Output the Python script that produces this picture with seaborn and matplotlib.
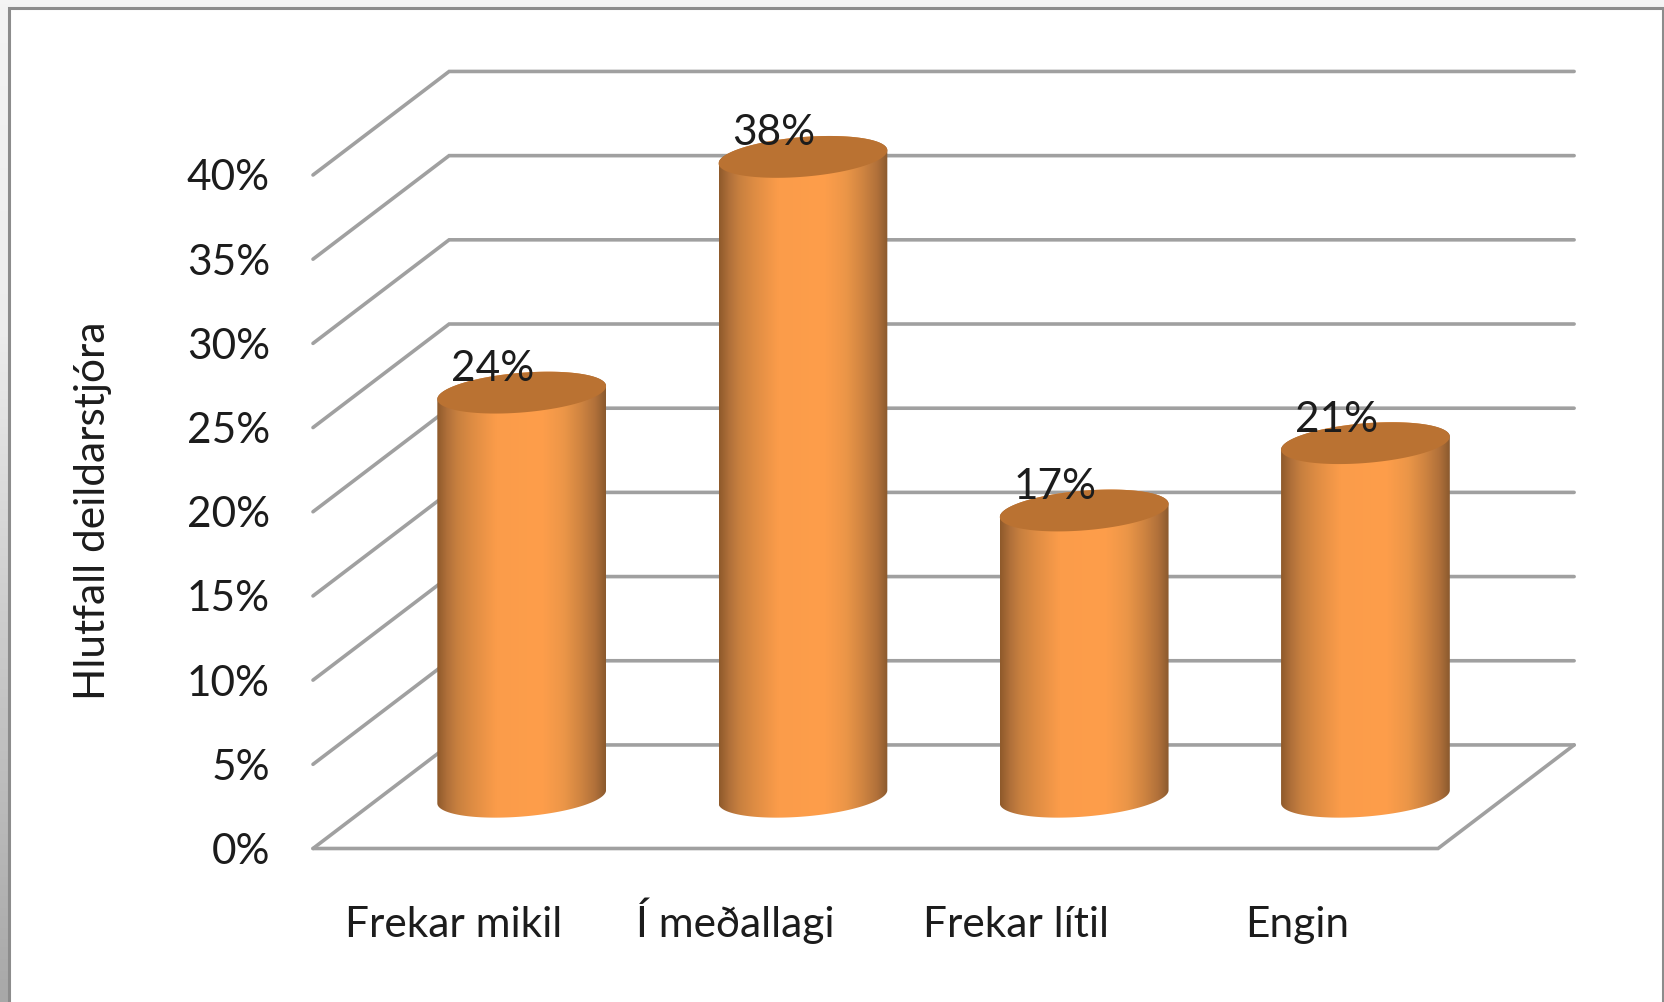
import numpy as np
import matplotlib
matplotlib.use("Agg")
import matplotlib.pyplot as plt
import seaborn as sns
from matplotlib.colors import LinearSegmentedColormap
from matplotlib.patches import Polygon, Rectangle

# data
categories = ["Frekar mikil", "Í meðallagi", "Frekar lítil", "Engin"]
values = [24, 38, 17, 21]
y_ticks = [0, 5, 10, 15, 20, 25, 30, 35, 40]
y_label = "Hlutfall deildarstjóra"

sns.set_theme(style="white")
plt.rcParams["font.family"] = ["Lato", "DejaVu Sans"]

W, H = 1665, 1002
GRID = "#a0a0a0"
TEXT = "#1c1c1c"
TOP = "#ba7232"
FS = 30.5

# depth of the fake 3d box, in data units
dx = 0.484
dy = 6.15
# tilt and height of the cylinder ellipses, in % units
ell_b = 1.18
ell_s = 0.39

fig = plt.figure(figsize=(W / 100, H / 100), dpi=100, facecolor="white")

# ----- frame behind the chart -----
bg = fig.add_axes([0, 0, 1, 1], zorder=-1)
bg.set_xlim(0, W)
bg.set_ylim(H, 0)
bg.axis("off")
frame_cmap = LinearSegmentedColormap.from_list(
    "frame", ["#f4f4f4", "#ececec", "#c8c8c8", "#a8a8a8"])
bg.imshow(np.linspace(0, 1, 256).reshape(-1, 1), cmap=frame_cmap,
          extent=[0, W, H, 0], aspect="auto", vmin=0, vmax=1)
bg.set_xlim(0, W)
bg.set_ylim(H, 0)
bg.add_patch(Rectangle((9, 8), W - 11, H + 10, facecolor="white",
                       edgecolor="#8c8c8c", linewidth=2.2))

# ----- chart axes: 0-40% on the front plane -----
ax = fig.add_axes([313 / W, 1 - 848.5 / H, 1125 / W, 673.5 / H])
ax.patch.set_alpha(0)

sns.barplot(x=categories, y=values, color="#f59a4a", width=0.6, saturation=1,
            ax=ax)

ax.set_xlim(-0.5, 3.5)
ax.set_ylim(0, 40)
ax.set_yticks(y_ticks)
ax.set_yticklabels([f"{t}%" for t in y_ticks])
ax.tick_params(axis="y", length=0, pad=31, labelsize=FS, labelcolor=TEXT)
ax.tick_params(axis="x", length=0, pad=64, labelsize=FS, labelcolor=TEXT)
for lab in ax.get_xticklabels():
    lab.set_va("baseline")
ax.set_xlabel("")
ax.set_ylabel(y_label, fontsize=FS, color=TEXT, va="center")
ax.yaxis.set_label_coords(-0.1956, 0.501)
sns.despine(ax=ax, left=True, bottom=True, top=True, right=True)

# ----- gridlines on the wall and the floor -----
x0, x1 = ax.get_xlim()
for t in y_ticks:
    ax.plot([x0, x0 + dx, x1 + dx], [t, t + dy, t + dy], color=GRID, lw=2.6,
            clip_on=False, zorder=1, solid_joinstyle="miter")
ax.plot([x0, x1, x1 + dx], [0, 0, dy], color=GRID, lw=2.6, clip_on=False,
        zorder=1, solid_joinstyle="miter")

# ----- turn each bar into a cylinder standing mid depth -----
shade = LinearSegmentedColormap.from_list("shade", [
    (0.00, "#8f5a2b"), (0.06, "#b0703a"), (0.12, "#c8803f"), (0.20, "#dc8b43"),
    (0.35, "#fb9c4a"), (0.62, "#fe9e4b"), (0.75, "#ec9648"), (0.85, "#d08541"),
    (0.94, "#b0703a"), (1.00, "#8b5a2e")])
grad = np.linspace(0, 1, 256).reshape(1, -1)
t_low = np.linspace(np.pi, 2 * np.pi, 80)
t_up = np.linspace(0, np.pi, 80)
t_all = np.linspace(0, 2 * np.pi, 160)

for bar, val in zip(ax.patches, values):
    bar.set_x(bar.get_x() + dx / 2)
    bar.set_y(dy / 2)
    bar.set_zorder(2)
    bar.set_clip_on(False)
    left = bar.get_x()
    w = bar.get_width()
    cx = left + w / 2
    base = dy / 2
    top = base + val
    a = w / 2

    # side of the cylinder, bottom arc then top arc
    xs = np.r_[cx + a * np.cos(t_low), cx + a * np.cos(t_up)]
    ys = np.r_[base + ell_s * np.cos(t_low) + ell_b * np.sin(t_low),
               top + ell_s * np.cos(t_up) + ell_b * np.sin(t_up)]
    body = Polygon(np.c_[xs, ys], closed=True, transform=ax.transData,
                   facecolor="none", edgecolor="none")
    ax.add_patch(body)
    body.set_clip_on(False)
    bar.set_visible(False)

    im = ax.imshow(grad, cmap=shade, extent=[left, left + w, base - 2, top + 2],
                   aspect="auto", zorder=3, interpolation="bilinear")
    im.set_clip_path(body)
    im.set_clip_box(fig.bbox)

    # lid
    lid = Polygon(np.c_[cx + a * np.cos(t_all),
                        top + ell_s * np.cos(t_all) + ell_b * np.sin(t_all)],
                  closed=True, facecolor=TOP, edgecolor="none", zorder=4,
                  clip_on=False)
    ax.add_patch(lid)

    ax.annotate(f"{val}%", xy=(cx, top), xytext=(-21, 17),
                textcoords="offset points", ha="center", va="center",
                fontsize=FS, color=TEXT, zorder=6, annotation_clip=False)

ax.set_xlim(x0, x1)
ax.set_ylim(0, 40)

fig.savefig("out.png", dpi=100)
